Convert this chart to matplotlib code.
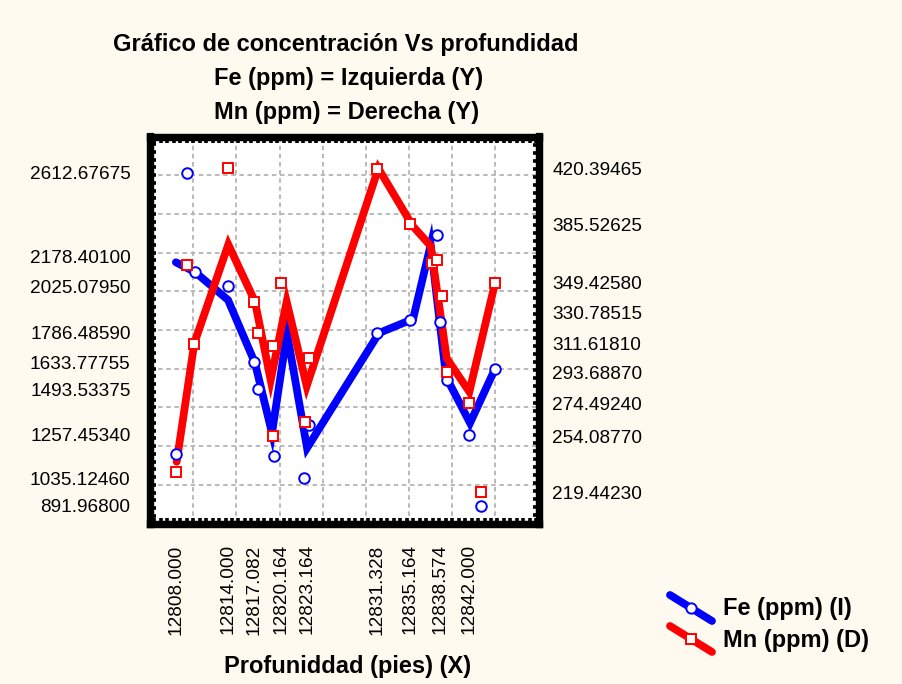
# Fe / Mn vs profundidad, dos ejes Y
import numpy as np
from matplotlib import pyplot as plt
from matplotlib.lines import Line2D
from matplotlib.ticker import FixedLocator, MultipleLocator

plt.rcParams['font.family'] = ['Liberation Sans', 'DejaVu Sans']

# muestras Fe (ppm) - eje izquierdo
prof_fe = [12808.0, 12809.23, 12810.21, 12814.0, 12817.082, 12817.54, 12819.36,
           12823.42, 12822.87, 12831.328, 12835.164, 12838.21, 12838.574,
           12839.37, 12842.0, 12843.34, 12844.96]
fe = [1159.2, 2612.67675, 2101.3, 2025.0795, 1633.77755, 1493.53375, 1150.4,
      1306.5, 1035.1246, 1786.4859, 1851.7, 2291.0, 1842.9, 1541.6,
      1257.4534, 891.968, 1596.9]

# muestras Mn (ppm) - eje derecho
prof_mn = [12808.0, 12809.25, 12810.13, 12814.0, 12817.082, 12817.54, 12819.28,
           12819.19, 12820.164, 12823.36, 12822.95, 12831.328, 12835.164,
           12837.63, 12838.28, 12838.79, 12839.37, 12842.0, 12843.31, 12844.96]
mn = [232.1, 360.1, 311.6181, 420.39465, 337.6, 317.95, 310.1, 254.0877,
      349.4258, 302.8, 263.1, 419.7, 385.52625, 361.7, 363.4, 341.1,
      293.6887, 274.4924, 219.4423, 349.4258]

# curvas
prof_fe_linea = [12808.0, 12810.21, 12814.04, 12817.16, 12819.13, 12820.87,
                 12823.19, 12831.53, 12835.47, 12837.51, 12839.3, 12842.07, 12844.96]
fe_linea = [2149.9, 2099.7, 1955.0, 1629.5, 1267.7, 1784.5, 1190.2, 1784.5,
            1856.9, 2239.3, 1557.1, 1319.4, 1598.5]
prof_mn_linea = [12808.09, 12810.13, 12814.07, 12817.16, 12818.98, 12820.83,
                 12823.15, 12831.45, 12835.43, 12837.51, 12839.37, 12841.99, 12844.96]
mn_linea = [238.3, 311.75, 373.0, 337.6, 289.0, 337.5, 285.3, 420.2, 384.5,
            372.1, 302.4, 281.7, 349.0]

# etiquetas de los ejes
ticks_x = [12808.000, 12814.000, 12817.082, 12820.164, 12823.164, 12831.328,
           12835.164, 12838.574, 12842.000]
ticks_fe = [2612.67675, 2178.40100, 2025.07950, 1786.48590, 1633.77755,
            1493.53375, 1257.45340, 1035.12460, 891.96800]
ticks_mn = [420.39465, 385.52625, 349.42580, 330.78515, 311.61810, 293.68870,
            274.49240, 254.08770, 219.44230]

fondo = '#fffaf0'
fig = plt.figure(figsize=(9.02, 6.84), dpi=100, facecolor=fondo)
ax = fig.add_axes([150 / 902, 1 - 523.5 / 684, 388.5 / 902, 387 / 684])
ax.set_facecolor('white')
ax2 = ax.twinx()

ax.set_xlim(12805, 12850)
ax.set_ylim(800, 2800)
ax2.set_ylim(200, 440)
ax2.set_autoscale_on(False)

# rejilla punteada
for gx in np.arange(12810, 12850, 5):
    ax.axvline(gx, color='#b4b4b4', lw=1.3, ls=(0, (2.5, 2)), zorder=0)
for gy in np.arange(1000, 2800, 200):
    ax.axhline(gy, color='#b4b4b4', lw=1.3, ls=(0, (2.5, 2)), zorder=0)

ax.plot(prof_fe_linea, fe_linea, color='blue', lw=5.6, solid_joinstyle='miter',
        solid_capstyle='round', zorder=2)
ax2.plot(prof_mn_linea, mn_linea, color='red', lw=5.6, solid_joinstyle='miter',
         solid_capstyle='round', zorder=2)
ax2.plot(prof_fe, fe, 'o', transform=ax.transData, ms=7.6, mfc='white',
         mec='blue', mew=1.4, zorder=3)
ax2.plot(prof_mn, mn, 's', ms=7.8, mfc='white', mec='red', mew=1.4, zorder=4)

# ejes y marcas
ax.xaxis.set_major_locator(FixedLocator(ticks_x))
ax.set_xticklabels(['%.3f' % v for v in ticks_x], rotation=90, fontsize=13.7)
ax.yaxis.set_major_locator(FixedLocator(ticks_fe))
ax.set_yticklabels(['%.5f' % v for v in ticks_fe], fontsize=13.7)
ax2.yaxis.set_major_locator(FixedLocator(ticks_mn))
ax2.set_yticklabels(['%.5f' % v for v in ticks_mn], fontsize=13.7)

ax.xaxis.set_minor_locator(MultipleLocator(0.75))
ax.yaxis.set_minor_locator(MultipleLocator(40))
ax2.yaxis.set_minor_locator(MultipleLocator(5))
ax.tick_params(axis='x', which='major', length=0, pad=15, top=False)
ax.tick_params(axis='y', which='major', length=0, pad=14)
ax2.tick_params(axis='y', which='major', length=0, pad=10)
ax.tick_params(which='minor', direction='in', length=4, width=2.6, top=True,
               right=False, color='black')
ax2.tick_params(which='minor', direction='in', length=4, width=2.6, color='black')
ax2.tick_params(axis='x', which='both', length=0)

for a in (ax, ax2):
    for s in a.spines.values():
        s.set_linewidth(5.2)
        s.set_color('black')

# titulos
fig.text(346 / 902, 1 - 44 / 684, 'Gráfico de concentración Vs profundidad',
         ha='center', va='center', fontsize=17, fontweight='bold')
fig.text(349 / 902, 1 - 78 / 684, 'Fe (ppm) = Izquierda (Y)',
         ha='center', va='center', fontsize=17, fontweight='bold')
fig.text(347 / 902, 1 - 112 / 684, 'Mn (ppm) = Derecha (Y)',
         ha='center', va='center', fontsize=17, fontweight='bold')
fig.text(348 / 902, 1 - 666 / 684, 'Profuniddad (pies) (X)',
         ha='center', va='center', fontsize=17, fontweight='bold')

# leyenda con trazos inclinados
def muestra(y0, color, marca, texto):
    x1, y1 = 670 / 902, 1 - y0 / 684
    x2, y2 = 712 / 902, 1 - (y0 + 26) / 684
    fig.add_artist(Line2D([x1, x2], [y1, y2], color=color, lw=5.6,
                          solid_capstyle='round', transform=fig.transFigure))
    fig.add_artist(Line2D([(x1 + x2) / 2], [(y1 + y2) / 2], marker=marca,
                          ms=7.4, mfc='white', mec=color, mew=1.4,
                          transform=fig.transFigure))
    fig.text(723 / 902, 1 - (y0 + 14) / 684, texto, ha='left', va='center',
             fontsize=17, fontweight='bold')

muestra(595, 'blue', 'o', 'Fe (ppm) (I)')
muestra(626, 'red', 's', 'Mn (ppm) (D)')

fig.savefig('out.png', dpi=100, facecolor=fondo)
